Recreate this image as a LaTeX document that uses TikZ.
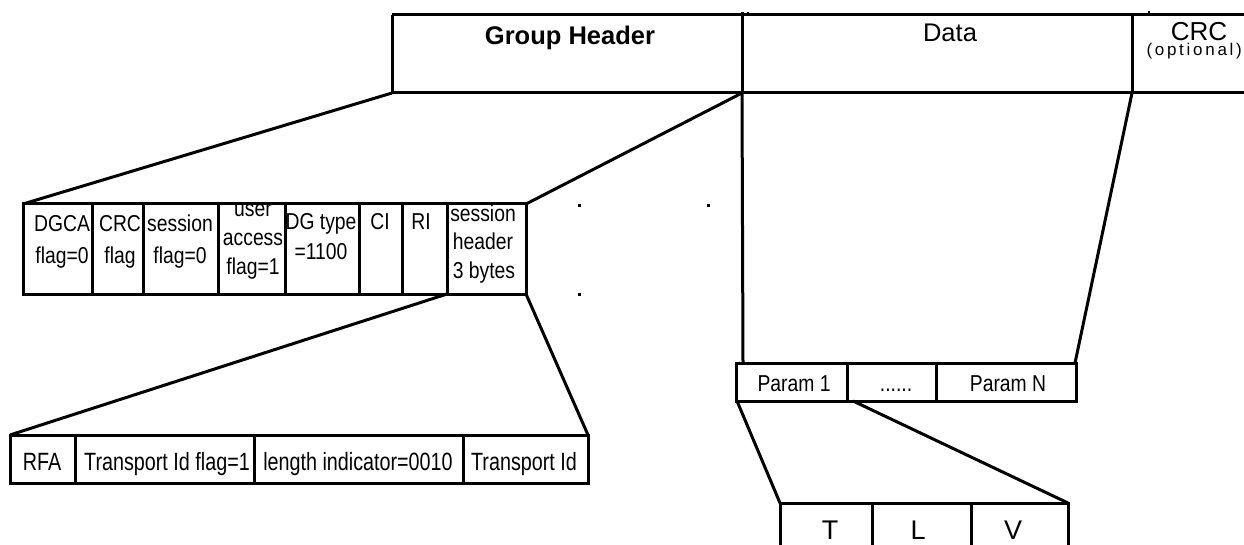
\documentclass[tikz,border=0pt]{standalone}
\usepackage{fontspec}
\setmainfont{Liberation Sans}
\newcommand\nrw[1]{\scalebox{0.84}[1]{#1}}
\newcommand\nrr[1]{\scalebox{0.79}[1]{#1}}
\begin{document}
\begin{tikzpicture}[x=1pt,y=-1pt,line width=3pt,
  fld/.style={font=\fontsize{23}{27}\selectfont,anchor=base,inner sep=0pt},
  row/.style={font=\fontsize{25}{29}\selectfont,anchor=base,inner sep=0pt},
  big/.style={font=\fontsize{25.5}{29}\selectfont,anchor=base,inner sep=0pt},
  tlv/.style={font=\fontsize{27}{30}\selectfont,anchor=base,inner sep=0pt},
  dot/.style={fill=black}]
\useasboundingbox (0,0) rectangle (1244,545);

% ---------- top band ----------
\coordinate (ghTL) at (392,15);
\coordinate (ghBL) at (392,93);
\coordinate (ghBR) at (742,93);
\coordinate (crcB) at (1132,93);
\draw (ghTL) -- (1250,15);
\draw (ghBL) -- (1250,93);
\draw (ghTL) -- (ghBL);
\draw (742,12) -- (ghBR);
\draw (1132,13) -- (crcB);
\fill[dot] (747,12) rectangle +(2,2);
\fill[dot] (1148,11) rectangle +(2,2);
\node[big,font=\bfseries\fontsize{25.5}{29}\selectfont] (gh) at (570,45) {Group Header};
\node[big] (data) at (950,42) {Data};
\node[big,font=\fontsize{26}{29}\selectfont] (crc) at (1199,40.5) {CRC};
\node[anchor=base west,inner sep=0pt,font=\fontsize{17}{19}\selectfont\addfontfeature{LetterSpace=16}] (opt) at (1145,56) {(optional)};

% ---------- field row ----------
\coordinate (fTL) at (23,204);
\coordinate (fTR) at (526,204);
\coordinate (fBL2) at (447,294);
\coordinate (fBR) at (526,294);
\draw (fTL) rectangle (fBR);
\foreach \x in {92,143,218,285,359,402,447} \draw (\x,204) -- (\x,294);
\node[fld] (t1) at (62,232) {\nrw{DGCA}};
\node[fld] (t2) at (62,263) {\nrw{flag=0}};
\node[fld] (t3) at (120,232) {\nrw{CRC}};
\node[fld] (t4) at (120,263) {\nrw{flag}};
\node[fld] (t5) at (180,232) {\nrw{session}};
\node[fld] (t6) at (180,263) {\nrw{flag=0}};
\node[fld] (t7) at (253,217) {\nrw{user}};
\node[fld] (t8) at (253,246) {\nrw{access}};
\node[fld] (t9) at (253,275) {\nrw{flag=1}};
\node[fld] (t10) at (321,230) {\nrw{DG type}};
\node[fld] (t11) at (321,260) {\nrw{=1100}};
\node[fld] (t12) at (380,230) {\nrw{CI}};
\node[fld] (t13) at (421,230) {\nrw{RI}};
\node[fld] (t14) at (483,222) {\nrw{session}};
\node[fld] (t15) at (483,250) {\nrw{header}};
\node[fld] (t16) at (484,278) {\nrw{3 bytes}};

\fill[dot] (577.5,204.5) rectangle +(3,3);
\fill[dot] (706.5,204.5) rectangle +(3,3);
\fill[dot] (577.5,292.5) rectangle +(3,3);

% ---------- second row ----------
\coordinate (rTL) at (10,435);
\coordinate (rTR) at (588,435);
\draw (rTL) rectangle (588,483);
\foreach \x in {75,254,463} \draw (\x,435) -- (\x,483);
\node[row] (r1) at (42,470) {\nrr{RFA}};
\node[row] (r2) at (167,470) {\nrr{Transport Id flag=1}};
\node[row] (r3) at (358,470) {\nrr{length indicator=0010}};
\node[row] (r4) at (524,470) {\nrr{Transport Id}};

% ---------- param row ----------
\coordinate (pTL) at (743,363);
\coordinate (pTR) at (1075,363);
\coordinate (pBL) at (737,401);
\coordinate (pBM) at (853,401);
\draw (736,363) rectangle (1076,401);
\foreach \x in {847,936} \draw (\x,363) -- (\x,401);
\node[fld] (p1) at (794,391) {\nrw{Param 1}};
\node[fld] (p2) at (896,391) {\nrw{......}};
\node[fld] (p3) at (1008,391) {\nrw{Param N}};

% ---------- TLV ----------
\coordinate (tTL) at (780,503);
\coordinate (tTR) at (1068,503);
\draw (780,548) -- (tTL) -- (tTR) -- (1068,548);
\foreach \x in {872,971} \draw (\x,503) -- (\x,548);
\node[tlv] (tt) at (830,539) {T};
\node[tlv] (tl) at (918,539) {L};
\node[tlv] (tv) at (1013,539) {V};

% ---------- connectors ----------
\draw (ghBL) -- (fTL);
\draw (ghBR) -- (fTR);
\draw (ghBR) -- (pTL);
\draw (crcB) -- (pTR);
\draw (fBL2) -- (rTL);
\draw (fBR) -- (rTR);
\draw (pBL) -- (tTL);
\draw (pBM) -- (tTR);
\end{tikzpicture}
\end{document}
